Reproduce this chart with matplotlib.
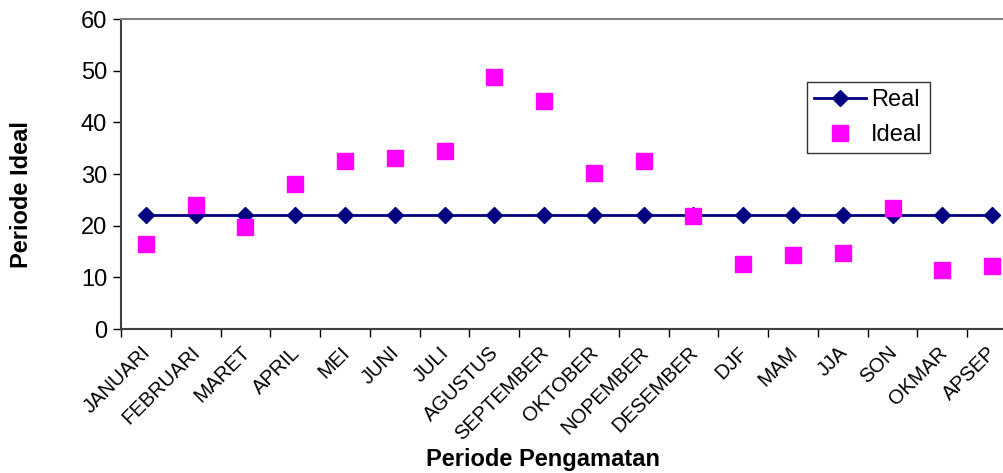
import numpy as np
import matplotlib
matplotlib.use("Agg")
import matplotlib.pyplot as plt
from matplotlib.transforms import ScaledTranslation

plt.rcParams['font.family'] = ['Liberation Sans', 'DejaVu Sans']

# --------------------------
# Data
# --------------------------
categories = ["JANUARI", "FEBRUARI", "MARET", "APRIL", "MEI", "JUNI", "JULI",
              "AGUSTUS", "SEPTEMBER", "OKTOBER", "NOPEMBER", "DESEMBER",
              "DJF", "MAM", "JJA", "SON", "OKMAR", "APSEP"]
real = [22] * 18
ideal = [16.4, 24.0, 19.7, 28.1, 32.5, 33.1, 34.4, 48.8, 44.1, 30.2, 32.5,
         21.9, 12.6, 14.3, 14.7, 23.4, 11.4, 12.2]

# --------------------------
# Figure
# --------------------------
W, H = 1004, 473
fig = plt.figure(figsize=(W / 100, H / 100), dpi=100)
left, right, top, bottom = 121, 1017, 19, 329
ax = fig.add_axes([left / W, 1 - bottom / H, (right - left) / W, (bottom - top) / H])

x = np.arange(len(categories))
ax.plot(x, real, color="#000080", lw=2, marker="D", ms=8, label="Real", zorder=3)
ax.plot(x, ideal, ls="none", color="#FF00FF", marker="s", ms=11, label="Ideal", zorder=4)

ax.set_xlim(-0.5, len(categories) - 0.5)
ax.set_ylim(0, 60)
ax.set_yticks(range(0, 61, 10))
ax.tick_params(axis="y", labelsize=17, direction="out", length=6, width=1, colors="black", pad=4)

ax.set_xticks(x)
ax.set_xticklabels(categories, rotation=45, ha="right", va="top",
                   rotation_mode="anchor", fontsize=14.5)
ax.set_xticks(np.arange(-0.5, len(categories), 1), minor=True)
ax.tick_params(axis="x", which="major", length=0, pad=10)
ax.tick_params(axis="x", which="minor", length=6, width=1, direction="out")
shift = ScaledTranslation(-5 / 100, 0, fig.dpi_scale_trans)
for lab in ax.get_xticklabels():
    lab.set_transform(lab.get_transform() + shift)

for s in ["top", "right"]:
    ax.spines[s].set_color("#808080")
ax.spines["left"].set_color("#404040")
ax.spines["bottom"].set_color("#404040")
ax.spines["left"].set_linewidth(1.5)
ax.spines["bottom"].set_linewidth(1.5)
ax.spines["top"].set_linewidth(1.5)

fig.text(22 / W, 1 - 195 / H, "Periode Ideal", rotation=90, ha="center", va="center",
         fontsize=17, fontweight="bold")
fig.text(543 / W, 1 - 459 / H, "Periode Pengamatan", ha="center", va="center",
         fontsize=17, fontweight="bold")

leg = ax.legend(loc="upper left", bbox_to_anchor=((807 - left) / (right - left), 1 - (82 - top) / (bottom - top)),
                fontsize=17, frameon=True, fancybox=False, edgecolor="black",
                borderpad=0.3, borderaxespad=0, handlelength=2.2, handletextpad=0.22,
                labelspacing=0.56)
leg.get_frame().set_linewidth(1)

fig.savefig("out.png", dpi=100)
